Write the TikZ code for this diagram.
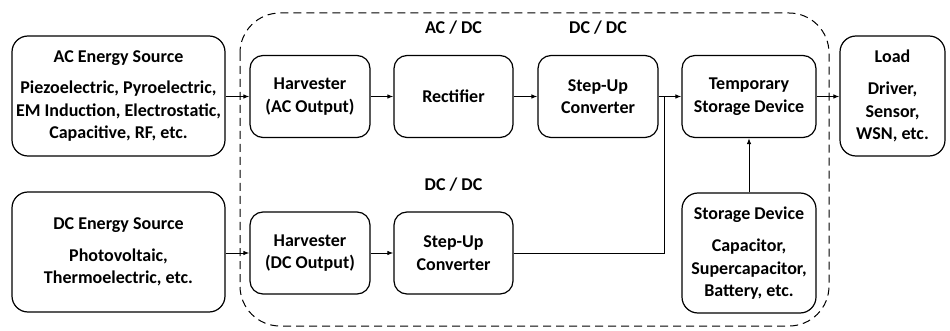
\documentclass[tikz,border=0pt]{standalone}
\usepackage{fontspec}
\setmainfont{Carlito}
\usetikzlibrary{arrows.meta}
\begin{document}
\begin{tikzpicture}[x=1pt,y=-1pt,
  box/.style={draw, line width=1.2pt, rounded corners=13pt, align=center, inner sep=0pt,
    font=\bfseries\fontsize{18}{22.5}\selectfont},
  bigbox/.style={box, rounded corners=16pt},
  lbl/.style={font=\bfseries\fontsize{18}{20}\selectfont, inner sep=0pt},
  conn/.style={line width=1pt, -{Latex[length=6pt,width=4.5pt]}},
  wire/.style={line width=1pt}]
\useasboundingbox (0,0) rectangle (950,331);
\draw[line width=1pt, dash pattern=on 8pt off 5pt, rounded corners=40pt] (240,13) rectangle (829,326);
\node[bigbox, minimum width=213pt, minimum height=120pt] (acsrc) at (118.5,96)
  {AC Energy Source\\[9pt]Piezoelectric, Pyroelectric,\\EM Induction, Electrostatic,\\Capacitive, RF, etc.};
\node[bigbox, minimum width=213pt, minimum height=120pt] (dcsrc) at (118.5,252)
  {DC Energy Source\\[9pt]Photovoltaic,\\Thermoelectric, etc.};
\node[box, minimum width=120pt, minimum height=82pt] (harvac) at (310,96.5) {Harvester\\(AC Output)};
\node[box, minimum width=119pt, minimum height=82pt] (rect) at (453.5,96.5) {Rectifier};
\node[box, minimum width=120pt, minimum height=82pt] (stepac) at (598,96.5) {Step-Up\\Converter};
\node[box, minimum width=134pt, minimum height=82pt] (temp) at (749,96.5) {Temporary\\Storage Device};
\node[bigbox, minimum width=105pt, minimum height=120pt] (load) at (892.5,96) {Load\\[10pt]Driver,\\Sensor,\\WSN, etc.};
\node[box, minimum width=120pt, minimum height=82pt] (harvdc) at (310,253) {Harvester\\(DC Output)};
\node[box, minimum width=119pt, minimum height=82pt] (stepdc) at (453.5,253) {Step-Up\\Converter};
\node[bigbox, minimum width=134pt, minimum height=120pt] (stor) at (749,253) {Storage Device\\[10pt]Capacitor,\\Supercapacitor,\\Battery, etc.};
\node[lbl] (l1) at (453.5,28) {AC / DC};
\node[lbl] (l2) at (598,28) {DC / DC};
\node[lbl] (l3) at (453.5,185) {DC / DC};
\coordinate (j) at (664,96.5);
\draw[conn] (acsrc.east |- harvac.west) -- (harvac.west);
\draw[conn] (harvac) -- (rect);
\draw[conn] (rect) -- (stepac);
\draw[conn] (stepac) -- (temp);
\draw[conn] (temp) -- (load.west |- temp.east);
\draw[conn] (dcsrc.east |- harvdc.west) -- (harvdc.west);
\draw[conn] (harvdc) -- (stepdc);
\draw[wire] (stepdc.east) -| (j);
\draw[conn] (stor) -- (temp);
\end{tikzpicture}
\end{document}
